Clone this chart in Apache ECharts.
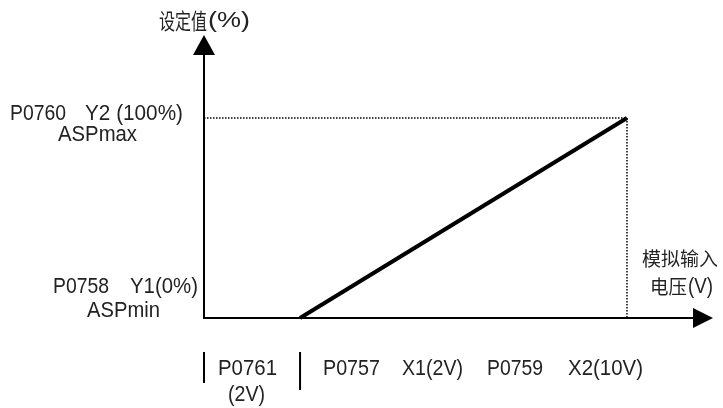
<!DOCTYPE html>
<html><head><meta charset="utf-8">
<script src="https://cdn.jsdelivr.net/npm/echarts@6/dist/echarts.min.js"></script>
<style>html,body{margin:0;padding:0;background:#fff}#c{width:723px;height:408px}</style>
</head><body><div id="c"></div>
<script>
// Data (volts on x, setpoint % on y)
const xRange = [-0.35, 11.86];
const yRange = [0, 136.5];
const rampX = [2, 10];
const rampY = [0, 100];
const guideX = [xRange[0], 10, 10];
const guideY = [100, 100, 0];
const tickMarkX = [xRange[0], 2];
const tickMarkY = [[-17, -32.5], [-17, -36]];
const yAxisTitle = ['设定值', '(%)'];
const xAxisTitle = ['模拟输入', '电压', '(V)'];
const yLabelsTop = ['P0760', 'Y2 (100%)', 'ASPmax'];
const yLabelsBottom = ['P0758', 'Y1(0%)', 'ASPmin'];
const xLabels = ['P0761', '(2V)', 'P0757', 'X1(2V)', 'P0759', 'X2(10V)'];

const latin = '"Liberation Sans", sans-serif';
const cjk = '"Noto Sans CJK SC", sans-serif';
const ctx = document.createElement('canvas').getContext('2d');
// fit a text token into a horizontal span [l, r] centred on cy
function fit(text, l, r, cy, size, family, sy) {
  const f = size + 'px ' + family;
  ctx.font = f;
  const w = ctx.measureText(text).width;
  return {type:'text', x:l, y:cy, scaleX:(r - l) / w, scaleY:sy,
    style:{x:0, y:0, text, font:f, fill:'#222', textAlign:'left', textVerticalAlign:'middle'}};
}
const L = (t, l, r, cy) => fit(t, l, r, cy, 17, latin, 1.32);
const C = (t, l, r, cy, sy) => fit(t, l, r, cy, 18, cjk, sy || 1.05);

function render() {
  const chart = echarts.init(document.getElementById('c'));
  const series = [
    {type:'line', data: rampX.map((x,i)=>[x, rampY[i]]), symbol:'none', lineStyle:{color:'#000', width:4}, z:5},
    {type:'line', data: guideX.map((x,i)=>[x, guideY[i]]), symbol:'none', lineStyle:{color:'#000', width:1.5, type:[1.5,1.5]}, z:3}
  ];
  tickMarkX.forEach((x,i)=>{
    series.push({type:'line', clip:false, data:[[x, tickMarkY[i][0]],[x, tickMarkY[i][1]]], symbol:'none', lineStyle:{color:'#000', width:2}});
  });
  chart.setOption({
    animation:false,
    grid:{left:204, right:20, top:45, bottom:90},
    xAxis:{type:'value', min:xRange[0], max:xRange[1], axisLine:{show:true, onZero:false, symbol:['none','triangle'], symbolSize:[20,20], lineStyle:{color:'#000', width:2}}, axisTick:{show:false}, axisLabel:{show:false}, splitLine:{show:false}},
    yAxis:{type:'value', min:yRange[0], max:yRange[1], axisLine:{show:true, onZero:false, symbol:['none','triangle'], symbolSize:[22,20], lineStyle:{color:'#000', width:2}}, axisTick:{show:false}, axisLabel:{show:false}, splitLine:{show:false}},
    series,
    graphic:[
      C(yAxisTitle[0], 159, 207, 21, 1.2), L(yAxisTitle[1], 208, 250, 21),
      L(yLabelsTop[0], 10, 66, 114), L(yLabelsTop[1], 85, 183, 114), L(yLabelsTop[2], 58, 137, 135),
      L(yLabelsBottom[0], 53, 109, 287), L(yLabelsBottom[1], 130, 198, 287), L(yLabelsBottom[2], 87, 160, 311),
      L(xLabels[0], 218, 277, 369), L(xLabels[1], 228, 265, 395),
      L(xLabels[2], 323, 380, 369), L(xLabels[3], 402, 463, 369),
      L(xLabels[4], 487, 543, 369), L(xLabels[5], 568, 643, 369),
      C(xAxisTitle[0], 642, 718, 259), C(xAxisTitle[1], 650, 687, 287), L(xAxisTitle[2], 688, 713, 287)
    ]
  });
}
if (document.fonts && document.fonts.load) {
  Promise.all([document.fonts.load('17px "Liberation Sans"'), document.fonts.load('18px "Noto Sans CJK SC"')]).then(render, render);
} else { render(); }
</script></body></html>
